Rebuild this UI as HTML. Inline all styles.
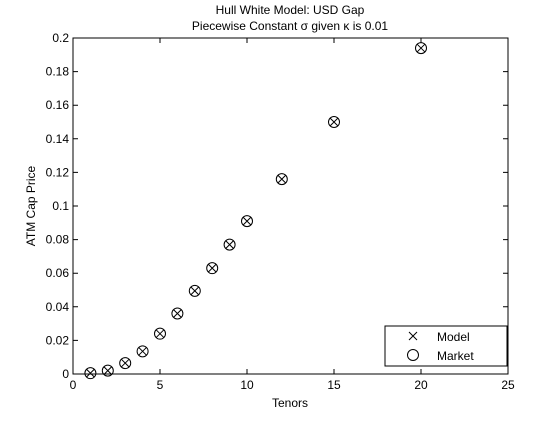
<!DOCTYPE html>
<html><head><meta charset="utf-8"><style>
body{margin:0;background:#fff;width:560px;height:420px;overflow:hidden}
svg text{font-family:"Liberation Sans",sans-serif;font-size:12px;fill:#000}
</style></head><body>
<svg id="c" width="560" height="420">
<text x="290" y="14" text-anchor="middle">Hull White Model: USD Gap</text>
<text x="290" y="30" text-anchor="middle">Piecewise Constant σ given κ is 0.01</text>
<rect x="73" y="38" width="435" height="336" fill="none" stroke="#000"/>
<g id="ax"></g>
<text x="290" y="407" text-anchor="middle">Tenors</text>
<text transform="translate(35,206) rotate(-90)" text-anchor="middle">ATM Cap Price</text>
<g id="pts"></g>
<g>
<rect x="385" y="326" width="122" height="40" fill="#fff" stroke="#000"/>
<path d="M409,332 l8,8 M417,332 l-8,8" stroke="#000"/>
<text x="437" y="341">Model</text>
<circle cx="413" cy="355" r="5.5" fill="none" stroke="#000"/>
<text x="437" y="360">Market</text>
</g>
</svg>
<script>
const tenors=[1,2,3,4,5,6,7,8,9,10,12,15,20];
const modelPrices=[0.0005,0.002,0.0065,0.0135,0.024,0.036,0.0495,0.063,0.077,0.091,0.116,0.150,0.194];
const marketPrices=[0.0005,0.002,0.0065,0.0135,0.024,0.036,0.0495,0.063,0.077,0.091,0.116,0.150,0.194];
const xTicks=[0,5,10,15,20,25];
const yTicks=[0,0.02,0.04,0.06,0.08,0.1,0.12,0.14,0.16,0.18,0.2];
const yTickLabels=["0","0.02","0.04","0.06","0.08","0.1","0.12","0.14","0.16","0.18","0.2"];
const L=73,R=508,T=38,B=374;
const xs=v=>L+(v-0)/25*(R-L), ys=v=>B-(v/0.2)*(B-T);
const NS="http://www.w3.org/2000/svg";
const ax=document.getElementById('ax'), pts=document.getElementById('pts');
function mk(tag,attrs,parent){const e=document.createElementNS(NS,tag);for(const k in attrs)e.setAttribute(k,attrs[k]);parent.appendChild(e);return e;}
xTicks.forEach(t=>{const x=xs(t);
 const l=mk('path',{d:`M${x},${B} v-5 M${x},${T} v5`,stroke:'#000'},ax);
 
 
 const tx=mk('text',{x:x,y:B+15,'text-anchor':'middle'},ax);tx.textContent=t;
 
 
});
yTicks.forEach((t,i)=>{const y=ys(t);
 const l=mk('path',{d:`M${L},${y} h5 M${R},${y} h-5`,stroke:'#000'},ax);
 
 
 const tx=mk('text',{x:L-4,y:y+4,'text-anchor':'end'},ax);tx.textContent=yTickLabels[i];
 
 
});
tenors.forEach((t,i)=>{const x=xs(t),y=ys(modelPrices[i]),y2=ys(marketPrices[i]);
 const m=mk('path',{d:`M${x-4},${y-4} l8,8 M${x+4},${y-4} l-8,8`,stroke:'#000',fill:'none'},pts);
 
 
 const c=mk('circle',{cx:x,cy:y2,r:5.5,fill:'none',stroke:'#000'},pts);
 
 
});
</script>
</body></html>
